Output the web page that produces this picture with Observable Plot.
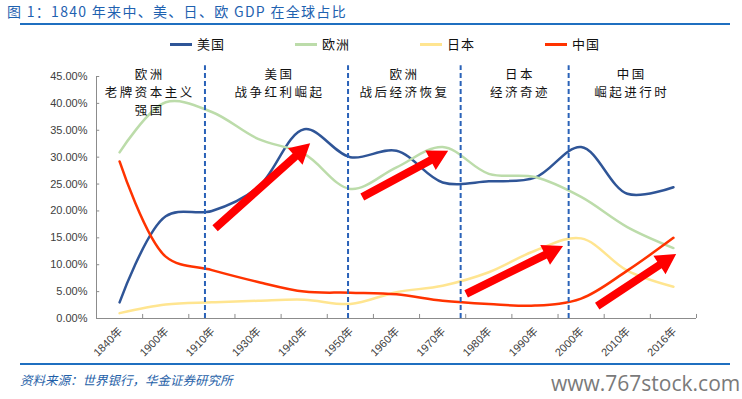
<!DOCTYPE html>
<html><head><meta charset="utf-8">
<script src="https://cdn.jsdelivr.net/npm/d3@7"></script>
<script src="https://cdn.jsdelivr.net/npm/@observablehq/plot@0.6"></script>
<style>
body{margin:0;background:#fff;}
#wrap{position:relative;width:742px;height:399px;overflow:hidden;font-family:"Noto Sans CJK SC","Liberation Sans",sans-serif;}
#title{position:absolute;left:7px;top:2px;font-size:14px;line-height:18px;color:#1f62b0;letter-spacing:1.3px;white-space:nowrap;}
.hline{position:absolute;left:20px;width:710px;height:2px;background:#1f6fc0;}
.leg{position:absolute;top:35px;font-size:13px;line-height:18px;color:#111;white-space:nowrap;letter-spacing:1px;}
.leg i{display:inline-block;width:22px;height:2.5px;vertical-align:middle;margin-right:5px;position:relative;top:-1px;}
#chart{position:absolute;left:0;top:55px;}
#source{position:absolute;left:20px;top:370px;font-size:12.5px;color:#1f5fa8;font-style:italic;white-space:nowrap;}
#wm{position:absolute;left:551px;top:369px;font-family:"Open Sans",sans-serif;font-size:21px;color:#7a7a7a;white-space:nowrap;}
</style></head>
<body><div id="wrap">
<div id="title">图 1：1840 年来中、美、日、欧 GDP 在全球占比</div>
<div class="hline" style="top:23px"></div>
<div id="legend"></div>
<div id="chart"></div>
<div class="hline" style="top:363px"></div>
<div id="source">资料来源：世界银行，华金证券研究所</div>
<div id="wm">www.767stock.com</div>
</div>
<script>
const years = ["1840年","1900年","1910年","1930年","1940年","1950年","1960年","1970年","1980年","1990年","2000年","2010年","2016年"];
const usa    = [3.0, 19.0, 20.0, 24.4, 35.2, 30.0, 31.2, 25.3, 25.5, 26.2, 31.9, 23.2, 24.4];
const europe = [30.9, 40.2, 38.4, 33.4, 30.6, 24.1, 28.1, 31.9, 26.9, 26.3, 22.6, 17.0, 13.1];
const japan  = [1.0, 2.6, 3.0, 3.3, 3.5, 2.7, 4.9, 6.1, 8.6, 12.6, 14.9, 8.9, 5.9];
const china  = [29.2, 11.5, 9.0, 6.8, 5.0, 4.8, 4.5, 3.3, 2.7, 2.4, 3.7, 8.9, 15.0];
const seriesNames = ["美国","欧洲","日本","中国"];
const seriesColors = ["#2f5597","#bcdcaa","#ffe590","#ff3300"];
const yTicks = [0,5,10,15,20,25,30,35,40,45];
const dividerPos = [1.85, 4.95, 7.39, 9.73];
const eraLabels = ["欧洲\n老牌资本主义\n强国","美国\n战争红利崛起","欧洲\n战后经济恢复","日本\n经济奇迹","中国\n崛起进行时"];
const eraPos = [0.63, 3.44, 6.15, 8.65, 11.07];
const eraTop = 46.9;
const arrowTail = [[2.08,16.7],[5.27,22.5],[7.52,4.5],[10.36,2.2]];
const arrowTip  = [[4.14,32.5],[7.13,31.1],[9.62,13.4],[12.07,11.9]];

// legend
const legPos = [170,295,420,545];
document.getElementById("legend").innerHTML = seriesNames.map((n,i)=>
  `<div class="leg" style="left:${legPos[i]}px"><i style="background:${seriesColors[i]}"></i>${n}</div>`).join("");

const seriesValues = [usa, europe, japan, china];
const rows = [];
seriesNames.forEach((s,k)=> seriesValues[k].forEach((v,i)=> rows.push({s, i, v})));

const boundaries = d3.range(years.length + 1).map(i => i - 0.5);
const axisColor = "#8c8c8c";

function arrowsMark(index, scales) {
  const g = d3.create("svg:g");
  const shaft = 8, headW = 22, headL = 20;
  arrowTail.forEach((t,k) => {
    const p = arrowTip[k];
    const x0 = scales.x(t[0]), y0 = scales.y(t[1]);
    const x1 = scales.x(p[0]), y1 = scales.y(p[1]);
    const len = Math.hypot(x1-x0, y1-y0);
    const ux = (x1-x0)/len, uy = (y1-y0)/len;
    const nx = -uy, ny = ux;
    const bx = x1 - ux*headL, by = y1 - uy*headL;
    const pts = [
      [x0 + nx*shaft/2, y0 + ny*shaft/2],
      [bx + nx*shaft/2, by + ny*shaft/2],
      [bx + nx*headW/2, by + ny*headW/2],
      [x1, y1],
      [bx - nx*headW/2, by - ny*headW/2],
      [bx - nx*shaft/2, by - ny*shaft/2],
      [x0 - nx*shaft/2, y0 - ny*shaft/2]
    ];
    g.append("polygon").attr("points", pts.map(q => q.join(",")).join(" ")).attr("fill", "#ff0000");
  });
  return g.node();
}

const chart = Plot.plot({
  width: 742, height: 308,
  marginLeft: 96, marginRight: 46, marginTop: 21, marginBottom: 45,
  x: {domain: [-0.5, years.length - 0.5], axis: null},
  y: {domain: [0, 45], axis: null},
  color: {domain: seriesNames, range: seriesColors},
  style: {background: "transparent", overflow: "visible"},
  marks: [
    Plot.axisY({ticks: yTicks, tickFormat: d => d.toFixed(2) + "%", tickSize: 0, tickPadding: 9, label: null,
      fontSize: 11, color: "#404040", fontFamily: "Liberation Sans, Arial, sans-serif"}),
    Plot.ruleX([-0.5], {y1: 0, y2: 45, stroke: axisColor}),
    Plot.ruleY(yTicks, {y: d => d, x1: -0.5, x2: -0.43, stroke: axisColor}),
    Plot.ruleY([0], {x1: -0.5, x2: years.length - 0.5, stroke: axisColor}),
    Plot.ruleX(boundaries, {x: d => d, y1: 0, y2: 0.75, stroke: axisColor}),
    Plot.text(years, {x: (d,i) => i, y: () => 0, text: d => d, rotate: -45, textAnchor: "end",
      dx: 1, dy: 11, fontSize: 11, fill: "#404040", fontFamily: "Liberation Sans, Noto Sans CJK SC, sans-serif"}),
    Plot.line(rows, {x: "i", y: "v", z: "s", stroke: "s", curve: "catmull-rom", strokeWidth: 2.5}),
    Plot.ruleX(dividerPos, {x: d => d, y1: 0, y2: 47, stroke: "#2a62b8", strokeWidth: 2, strokeDasharray: "5,3"}),
    Plot.text(eraLabels, {x: (d,i) => eraPos[i], y: () => eraTop, text: d => d, lineAnchor: "top",
      lineHeight: 1.45, fontSize: 12.5, fill: "#111", fontFamily: "Noto Sans CJK SC, sans-serif"}),
    arrowsMark
  ]
});
chart.querySelectorAll("text").forEach(t => {
  if (eraLabels.some(l => l.split("\n")[0] === (t.querySelector("tspan") || t).textContent) ||
      eraLabels.some(l => l.replace(/\n/g, "") === t.textContent)) {
    t.style.letterSpacing = "2.5px";
    t.querySelectorAll("tspan").forEach(s => s.setAttribute("dx", null));
    t.setAttribute("transform", (t.getAttribute("transform") || "") + " translate(1.2,0)");
  }
});
document.getElementById("chart").appendChild(chart);
</script>
</body></html>
